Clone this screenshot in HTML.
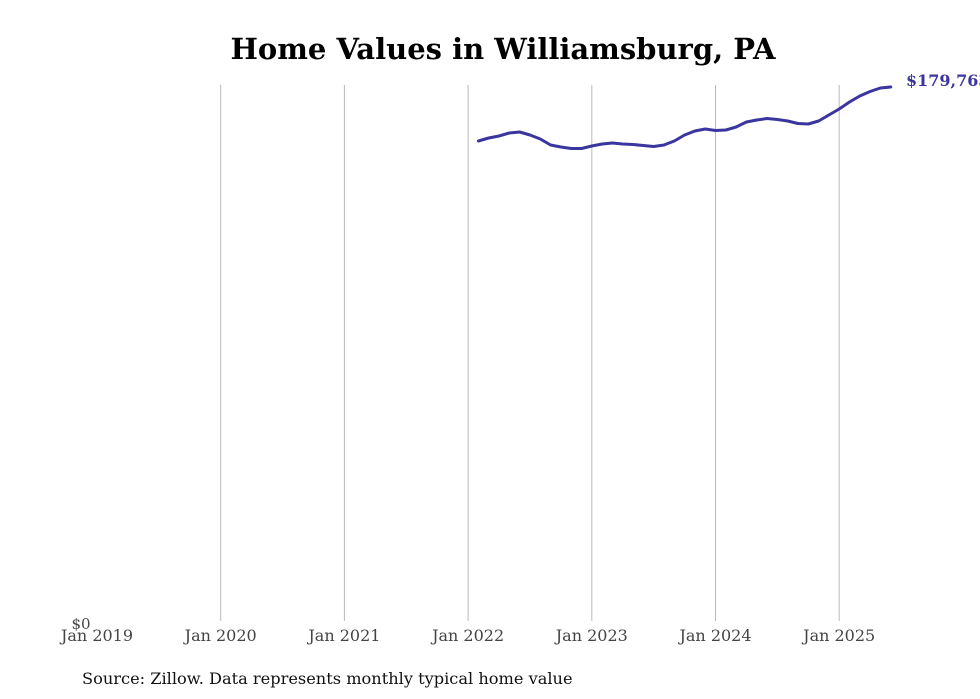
<!DOCTYPE html>
<html><head><meta charset="utf-8"><style>
body{margin:0;background:#fff;}
svg{display:block;font-family:"DejaVu Serif","Liberation Serif",serif;}
</style></head><body>
<svg id="chart" width="980" height="699">
<text x="503" y="59" text-anchor="middle" font-size="29" font-weight="bold" fill="#000">Home Values in Williamsburg, PA</text>
<g id="grid"></g>
<g id="xticks"></g>
<text x="81" y="629" font-size="15" fill="#444" text-anchor="middle">$0</text>
<path id="line" fill="none" stroke="#3b35a0" stroke-width="3" stroke-linejoin="round" stroke-linecap="round"></path>
<text id="endlabel" x="906" y="86" font-size="16" font-weight="bold" fill="#3b35a0"></text>
<text x="82" y="684" font-size="16.2" fill="#111">Source: Zillow. Data represents monthly typical home value</text>
</svg>
<script>
const yearLabels=["Jan 2019","Jan 2020","Jan 2021","Jan 2022","Jan 2023","Jan 2024","Jan 2025"];
const startMonth=37; // months since Jan 2019 of first point (Feb 2022)
const values=[161616,162624,163296,164304,164640,163632,162288,160272,159600,159096,159096,
159936,160608,160944,160608,160440,160104,159768,160272,161616,163632,164976,165648,
165144,165312,166320,168000,168672,169176,168840,168336,167496,167328,168336,170352,
172368,174720,176736,178248,179424,179763];
const x0=97, pxPerMonth=123.7/12, y0=622, yTop=87, yMax=179763;
const xs=m=>x0+m*pxPerMonth;
const ys=v=>y0-(v/yMax)*(y0-yTop);
const NS="http://www.w3.org/2000/svg";
const grid=document.getElementById('grid'), xt=document.getElementById('xticks');
yearLabels.forEach((lab,i)=>{
  const x=xs(i*12);
  if(i>0){
    const l=document.createElementNS(NS,'line');
    l.setAttribute('x1',x);l.setAttribute('x2',x);l.setAttribute('y1',85);l.setAttribute('y2',621);
    l.setAttribute('stroke','#bbb');l.setAttribute('stroke-width','1');
    
    
    grid.appendChild(l);
  }
  const t=document.createElementNS(NS,'text');
  t.setAttribute('x',x);t.setAttribute('y',641);t.setAttribute('text-anchor','middle');
  t.setAttribute('font-size','16');t.setAttribute('fill','#444');
  t.textContent=lab;
  
  
  xt.appendChild(t);
});
document.getElementById('line').setAttribute('d',values.map((v,i)=>(i?'L':'M')+xs(startMonth+i).toFixed(1)+','+ys(v).toFixed(1)).join(''));
document.getElementById('endlabel').textContent='$'+values[values.length-1].toLocaleString('en-US');
</script>
</body></html>
